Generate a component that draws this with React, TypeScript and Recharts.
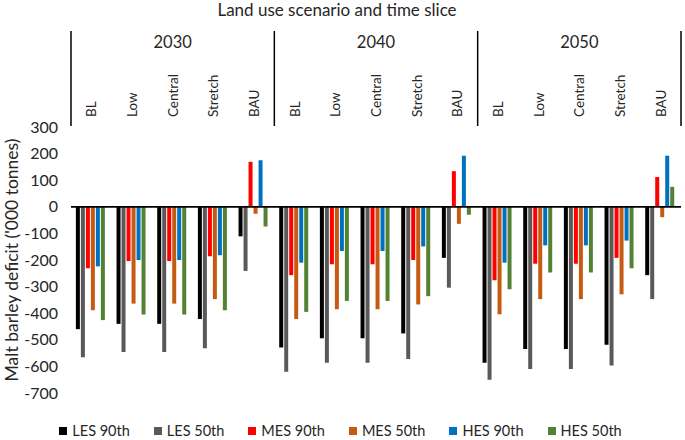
import React from 'react';
import { BarChart, Bar, XAxis, YAxis, ReferenceLine, Legend } from 'recharts';

const scenarios = ['BL', 'Low', 'Central', 'Stretch', 'BAU'];
const years = ['2030', '2040', '2050'];
const yTicks = [300, 200, 100, 0, -100, -200, -300, -400, -500, -600, -700];

const les90 = [-460, -440, -440, -422, -111, -529, -494, -494, -476, -192, -586, -535, -535, -519, -257];
const les50 = [-566, -546, -546, -532, -241, -620, -586, -586, -572, -304, -650, -610, -610, -597, -347];
const mes90 = [-231, -204, -204, -186, 169, -257, -216, -216, -200, 134, -276, -214, -214, -192, 112];
const mes50 = [-389, -364, -364, -347, -26, -422, -385, -385, -367, -64, -404, -347, -347, -329, -39];
const hes90 = [-224, -200, -200, -182, 175, -210, -166, -166, -149, 192, -210, -145, -145, -127, 192];
const hes50 = [-426, -405, -405, -389, -74, -395, -354, -354, -336, -30, -310, -247, -247, -231, 75];

const seriesNames = ['LES 90th', 'LES 50th', 'MES 90th', 'MES 50th', 'HES 90th', 'HES 50th'];
const seriesColors = ['#000000', '#595959', '#FF0000', '#C55A11', '#0070C0', '#548235'];
const seriesValues = [les90, les50, mes90, mes50, hes90, hes50];
const seriesKeys = ['les90', 'les50', 'mes90', 'mes50', 'hes90', 'hes50'];

const data = years.flatMap((yr, yi) =>
  scenarios.map((sc, si) => {
    const i = yi * 5 + si;
    const row: any = { cat: sc, year: yr };
    seriesKeys.forEach((k, ki) => (row[k] = seriesValues[ki][i]));
    return row;
  })
);

const FONT = 'Lato, "Liberation Sans", sans-serif';
const TEXT = '#262626';

const CatTick = (props: any) => {
  const { x, y, payload, index, width, visibleTicksCount } = props;
  const half = payload && payload.offset ? payload.offset : width / (visibleTicksCount || 15) / 2;
  const yi = Math.floor(index / 5);
  return (
    <g>
      <text
        x={x + 5}
        y={y - 2}
        transform={`rotate(-90 ${x + 5} ${y - 2})`}
        textAnchor="start"
        fontSize={13.5}
        fontFamily={FONT}
        fill={TEXT}
      >
        {payload.value}
      </text>
      {index % 5 === 2 && (
        <text x={x} y={y - 71} textAnchor="middle" fontSize={16.5} fontFamily={FONT} fill={TEXT}>
          {years[yi]}
        </text>
      )}
      {index % 5 === 0 && (
        <line x1={x - half} x2={x - half} y1={y - 88} y2={y + 7} stroke="#000" strokeWidth={1.5} />
      )}
      {index === 14 && (
        <line x1={x + half} x2={x + half} y1={y - 88} y2={y + 7} stroke="#000" strokeWidth={1.5} />
      )}
    </g>
  );
};

const renderLegend = () => (
  <div
    style={{
      display: 'flex',
      justifyContent: 'center',
      fontFamily: FONT,
      fontSize: 14.5,
      color: TEXT,
      paddingLeft: 24,
    }}
  >
    {seriesNames.map((n, i) => (
      <div key={n} style={{ display: 'flex', alignItems: 'center', marginRight: 24 }}>
        <span style={{ display: 'inline-block', width: 8, height: 8, background: seriesColors[i], marginRight: 5 }} />
        <span>{n}</span>
      </div>
    ))}
  </div>
);

export default function App() {
  return (
    <div style={{ position: 'absolute', left: 0, top: 0, width: 685, height: 440, background: '#fff' }}>
      <BarChart
        width={685}
        height={440}
        data={data}
        margin={{ top: 0, right: 4, bottom: 30, left: 0 }}
        barCategoryGap="12%"
        barGap={1}
      >
        <XAxis
          dataKey="cat"
          orientation="top"
          height={127}
          axisLine={false}
          tickLine={false}
          interval={0}
          tick={<CatTick />}
          label={{
            value: 'Land use scenario and time slice',
            position: 'insideTop',
            offset: 4,
            dx: -39,
            fontSize: 17,
            fontFamily: FONT,
            fill: TEXT,
          }}
        />
        <YAxis
          type="number"
          domain={[-700, 300]}
          ticks={yTicks}
          interval={0}
          width={71}
          axisLine={false}
          tickLine={false}
          tickMargin={7}
          tick={{ fontSize: 16, fontFamily: FONT, fill: TEXT }}
          label={{
            value: "Malt barley deficit ('000 tonnes)",
            angle: -90,
            position: 'center',
            dx: -24,
            fontSize: 17.5,
            fontFamily: FONT,
            fill: TEXT,
          }}
        />
        <ReferenceLine y={0} stroke="#000" strokeWidth={1.8} />
        <Legend verticalAlign="bottom" content={renderLegend} wrapperStyle={{ bottom: 1 }} />
        {seriesKeys.map((k, i) => (
          <Bar key={k} dataKey={k} name={seriesNames[i]} fill={seriesColors[i]} isAnimationActive={false} />
        ))}
      </BarChart>
    </div>
  );
}
